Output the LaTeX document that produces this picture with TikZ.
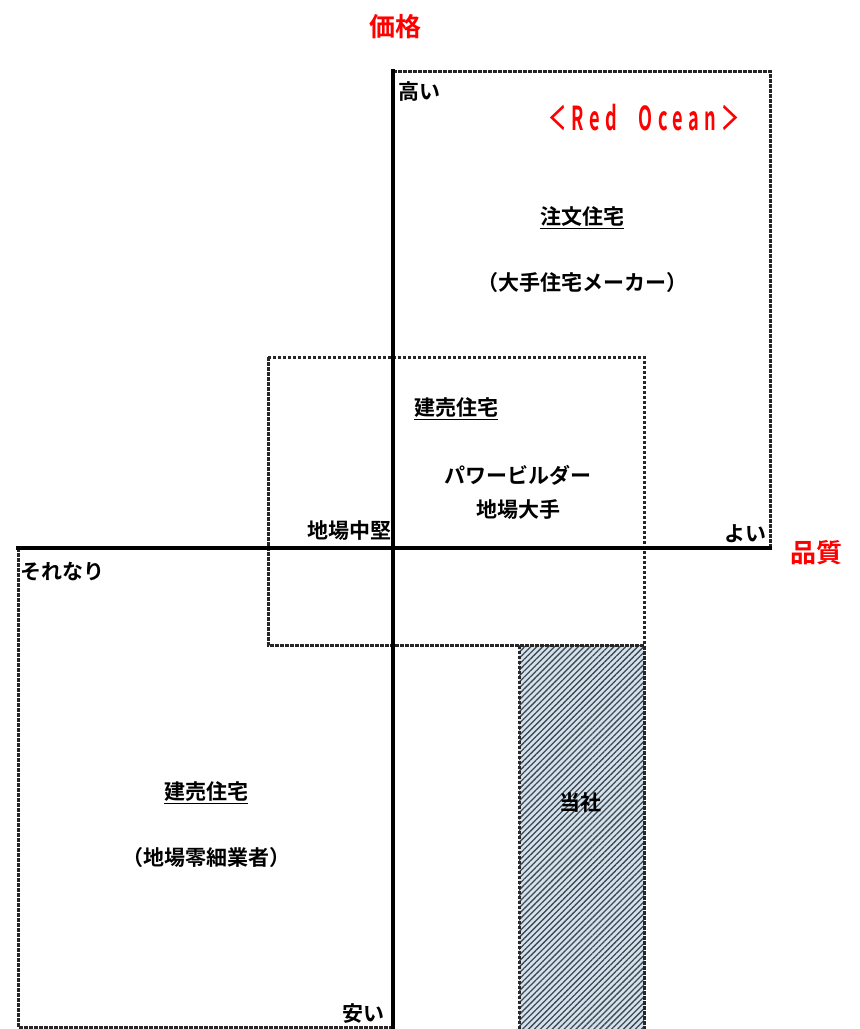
\documentclass[tikz,border=0pt]{standalone}
\usepackage{fontspec}
\setmainfont{Noto Sans CJK JP}[BoldFont={Noto Sans CJK JP Bold}]
\newfontfamily\jpb{Noto Sans CJK JP Bold}
\usetikzlibrary{patterns.meta}
\definecolor{hatchbg}{HTML}{D4E2EE}
\definecolor{hatchfg}{HTML}{404850}
\tikzset{
  axis/.style={line width=4pt},
  dbox/.style={line width=3pt, dash pattern=on 3.5pt off 1.5pt, black!85},
  lbl/.style={font=\jpb\fontsize{21}{25}\selectfont, inner sep=0pt, text=black},
  redlbl/.style={font=\jpb\fontsize{26}{30}\selectfont, inner sep=0pt, text=red},
}
\begin{document}
\begin{tikzpicture}[x=1pt,y=-1pt]
\useasboundingbox (0,0) rectangle (860,1029);
% boxes
\draw[dbox] (393,71) -- (770,71) -- (770,548);
\draw[dbox] (268,357) rectangle (644,645);
\draw[dbox] (18,548) -- (18,1027) -- (393,1027);
\fill[hatchbg] (519,645) rectangle (644,1029);
\fill[pattern={Lines[angle=45,distance=4.2pt,line width=1.3pt]}, pattern color=hatchfg] (519,645) rectangle (644,1029);
\draw[dbox] (519,1029) -- (519,645) -- (644,645) -- (644,1029);
% axes
\draw[axis] (393,69) -- (393,1029);
\draw[axis] (16,548) -- (772,548);
% labels
\node[redlbl] (price) at (395,27) {価格};
\node[redlbl] (quality) at (816,553) {品質};
\node[lbl] (high) at (419,92) {高い};
\node[font=\jpb\fontsize{33}{36}\selectfont, text=red, inner sep=0pt] (ro) at (644,118) {\scalebox{0.55}[1]{\addfontfeature{LetterSpace=30}＜Red\kern 40pt Ocean＞}};
\node[lbl] (chumon) at (582,218) {\underline{注文住宅}};
\node[lbl] (oote) at (582,283) {（大手住宅メーカー）};
\node[lbl] (tate1) at (456,409) {\underline{建売住宅}};
\node[lbl] (pb) at (518,475) {パワービルダー};
\node[lbl] (jioote) at (518,510) {地場大手};
\node[lbl] (chuken) at (349,531) {地場中堅};
\node[lbl] (yoi) at (745,534) {よい};
\node[lbl] (sorenari) at (62,572) {それなり};
\node[lbl] (tate2) at (206,793) {\underline{建売住宅}};
\node[lbl] (reisai) at (206,858) {（地場零細業者）};
\node[lbl] (tosha) at (580,803) {当社};
\node[lbl] (yasui) at (363,1014) {安い};
\end{tikzpicture}
\end{document}
